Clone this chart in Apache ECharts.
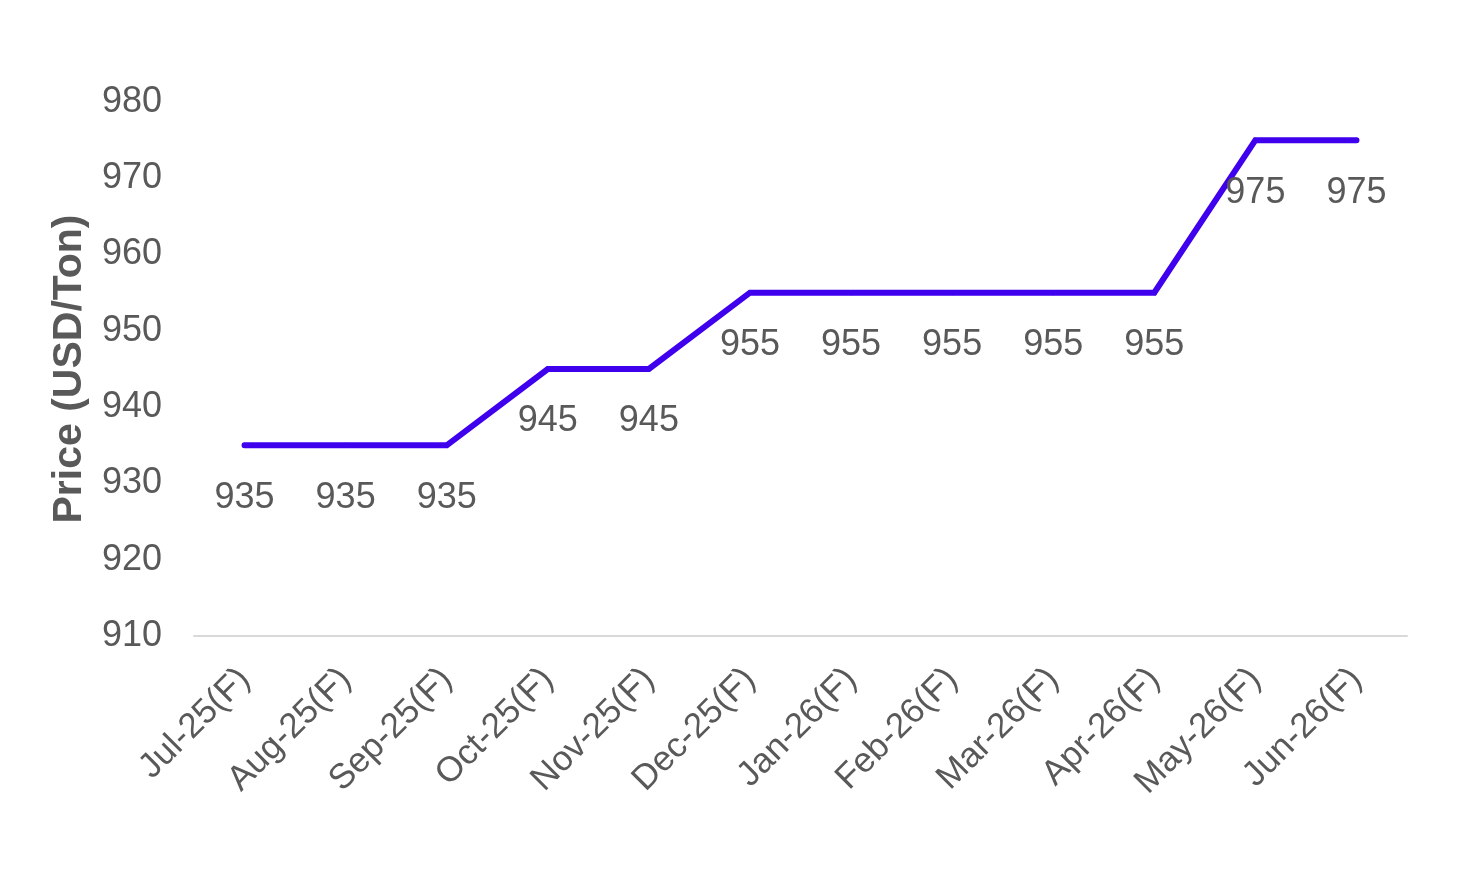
<!DOCTYPE html>
<html><head><meta charset="utf-8">
<script src="https://cdn.jsdelivr.net/npm/echarts@6/dist/echarts.min.js"></script>
<style>html,body{margin:0;padding:0;background:#fff}#c{width:1472px;height:871px}</style>
</head><body><div id="c"></div>
<script>
const categories = ['Jul-25(F)','Aug-25(F)','Sep-25(F)','Oct-25(F)','Nov-25(F)','Dec-25(F)','Jan-26(F)','Feb-26(F)','Mar-26(F)','Apr-26(F)','May-26(F)','Jun-26(F)'];
const prices = [935,935,935,945,945,955,955,955,955,955,975,975];
const yTitle = 'Price (USD/Ton)';

const chart = echarts.init(document.getElementById('c'));
const font = 'Liberation Sans, Arial, sans-serif';
chart.setOption({
  backgroundColor: '#ffffff',
  grid: {left: 194, right: 65, top: 102, bottom: 235, containLabel: false},
  xAxis: {
    type: 'category', data: categories, boundaryGap: true,
    axisLine: {show: true, lineStyle: {color: '#d9d9d9', width: 2}},
    axisTick: {show: false},
    axisLabel: {rotate: 45, fontSize: 35, color: '#595959', fontFamily: font, margin: 38, interval: 0}
  },
  yAxis: {
    type: 'value', min: 910, max: 980, interval: 10,
    name: yTitle, nameLocation: 'middle', nameGap: 104, nameRotate: 90,
    nameTextStyle: {fontSize: 41, fontWeight: 'bold', color: '#595959', fontFamily: font},
    axisLine: {show: false}, axisTick: {show: false}, splitLine: {show: false},
    axisLabel: {fontSize: 36, color: '#595959', fontFamily: font, margin: 32}
  },
  series: [{
    type: 'line', data: prices, symbol: 'circle', symbolSize: 5, showSymbol: true,
    itemStyle: {color: '#3f00ee', borderWidth: 0},
    lineStyle: {color: '#3f00ee', width: 6, cap: 'round', join: 'miter'},
    label: {show: true, position: 'bottom', distance: 32, fontSize: 36, color: '#595959', fontFamily: font},
    labelLayout: {hideOverlap: false},
    animation: false
  }],
  animation: false
});
</script></body></html>
